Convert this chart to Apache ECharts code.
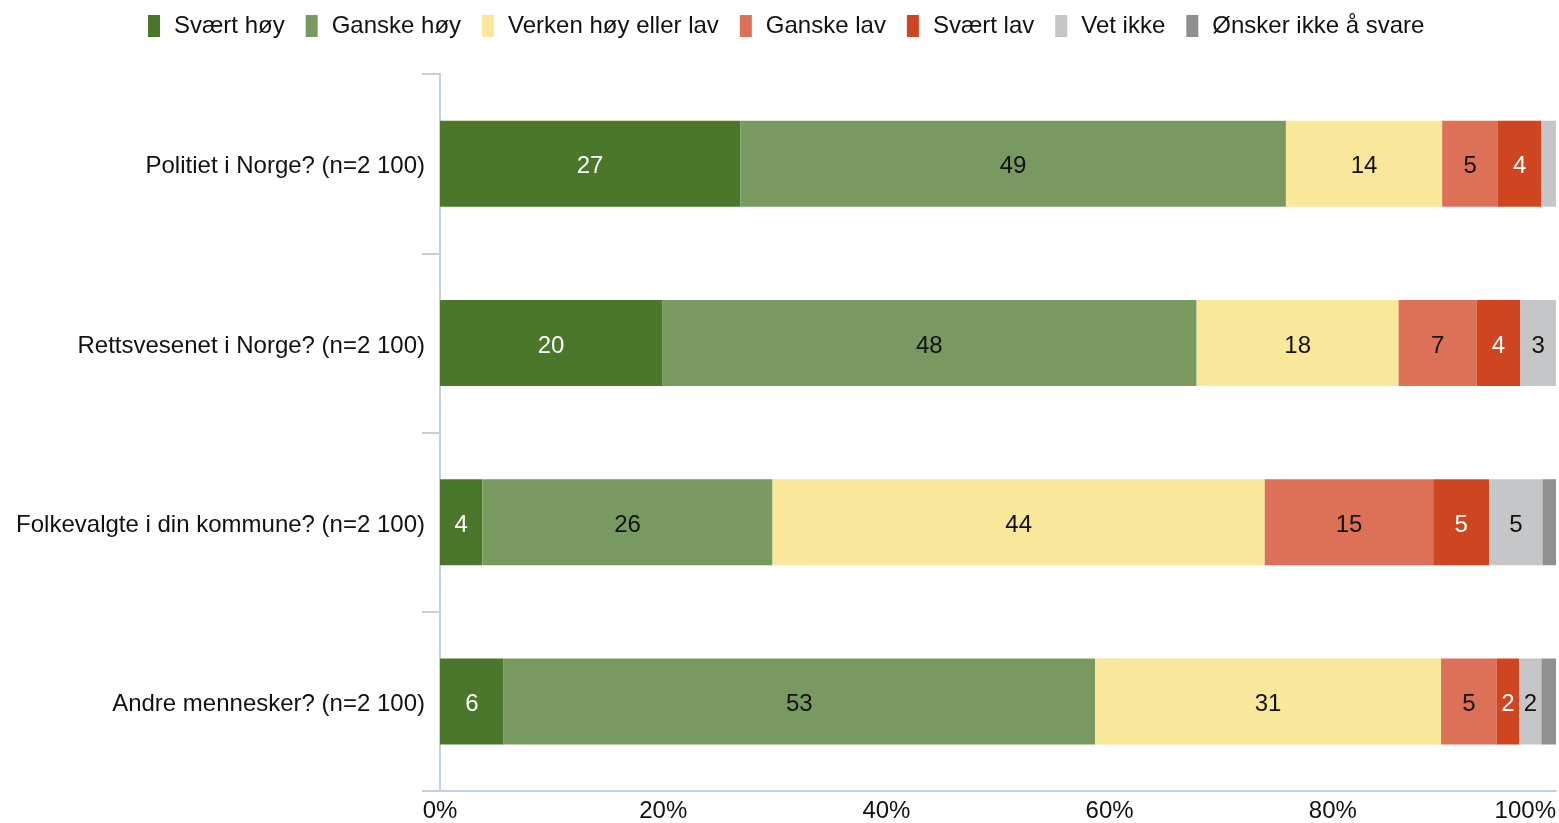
<!DOCTYPE html>
<html>
<head>
<meta charset="utf-8">
<script src="https://cdn.jsdelivr.net/npm/echarts@6/dist/echarts.min.js"></script>
<style>
  html, body { margin: 0; padding: 0; background: #fff; }
  #chart { width: 1559px; height: 823px; }
</style>
</head>
<body>
<div id="chart"></div>
<script>
// spørsmål (rader, ovenfra og ned)
const categories = [
  'Politiet i Norge? (n=2 100)',
  'Rettsvesenet i Norge? (n=2 100)',
  'Folkevalgte i din kommune? (n=2 100)',
  'Andre mennesker? (n=2 100)'
]
const xTicks = ['0%', '20%', '40%', '60%', '80%', '100%']

const svaertHoy = [26.9, 19.9, 3.8, 5.7]
const ganskeHoy = [48.9, 47.9, 26.0, 53.0]
const verken = [14.0, 18.1, 44.1, 31.0]
const ganskeLav = [5.0, 7.0, 15.1, 5.0]
const svaertLav = [3.9, 3.9, 5.0, 2.0]
const vetIkke = [1.3, 3.2, 4.8, 2.0]
const onskerIkke = [0, 0, 1.3, 1.3]

const seriesDefs = [
  { name: 'Svært høy', data: svaertHoy, color: '#4a7729', text: '#fff' },
  { name: 'Ganske høy', data: ganskeHoy, color: '#789a60', text: '#111' },
  { name: 'Verken høy eller lav', data: verken, color: '#fae89a', text: '#111' },
  { name: 'Ganske lav', data: ganskeLav, color: '#dc7158', text: '#111' },
  { name: 'Svært lav', data: svaertLav, color: '#cf4520', text: '#fff' },
  { name: 'Vet ikke', data: vetIkke, color: '#c5c6c8', text: '#111' },
  { name: 'Ønsker ikke å svare', data: onskerIkke, color: '#8f8f8f', text: '#111' }
]

const font = 'Liberation Sans, Arial, sans-serif'
const chart = echarts.init(document.getElementById('chart'))

chart.setOption({
  animation: false,
  textStyle: { fontFamily: font },
  legend: {
    top: 9,
    left: 143,
    itemWidth: 12,
    itemHeight: 22,
    itemGap: 21,
    icon: 'rect',
    textStyle: { fontSize: 24, color: '#111', fontFamily: font, padding: [0, 0, 0, 9] },
    data: seriesDefs.map(s => s.name)
  },
  grid: {
    left: 440,
    right: 3,
    top: 74,
    bottom: 32,
    containLabel: false,
    outerBoundsMode: 'none'
  },
  xAxis: {
    type: 'value',
    min: 0,
    max: 100,
    interval: 20,
    axisLine: { show: true, lineStyle: { color: '#c3d0de', width: 2 } },
    axisTick: { show: false },
    splitLine: { show: false },
    axisLabel: {
      fontSize: 24,
      color: '#111',
      margin: 8,
      alignMaxLabel: 'right',
      formatter: v => xTicks[v / 20]
    }
  },
  yAxis: {
    type: 'category',
    inverse: true,
    data: categories,
    axisLine: { show: true, lineStyle: { color: '#c3d0de', width: 2 } },
    axisTick: { show: true, length: 18, alignWithLabel: false, lineStyle: { color: '#c3d0de', width: 2 } },
    axisLabel: { fontSize: 24, color: '#111', margin: 15, verticalAlign: 'top', lineHeight: 6 }
  },
  series: seriesDefs.map(s => ({
    name: s.name,
    type: 'bar',
    stack: 'total',
    barWidth: 86,
    data: s.data,
    itemStyle: { color: s.color },
    label: {
      show: true,
      position: 'inside',
      fontSize: 24,
      color: s.text,
      fontFamily: font,
      offset: [0, 3],
      formatter: p => (p.value < 1.5 ? '' : String(Math.round(p.value)))
    }
  }))
})
</script>
</body>
</html>
